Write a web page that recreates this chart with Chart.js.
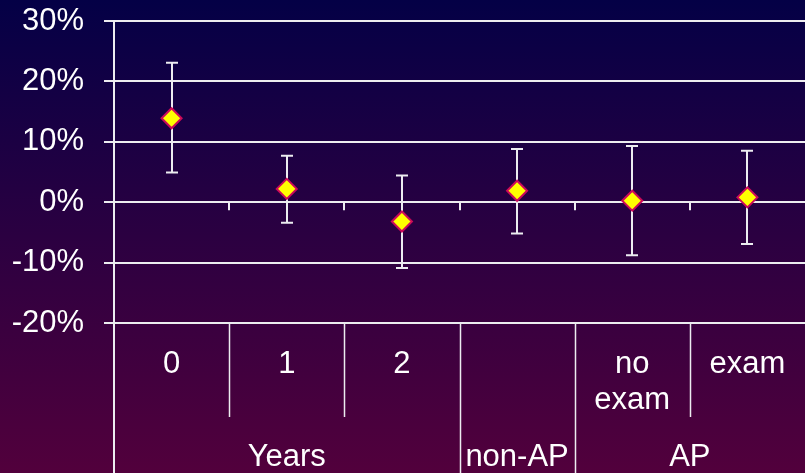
<!DOCTYPE html>
<html>
<head>
<meta charset="utf-8">
<script src="https://cdn.jsdelivr.net/npm/chart.js@4.4.1/dist/chart.umd.min.js"></script>
<style>
  html, body { margin: 0; padding: 0; }
  #wrap { width: 805px; height: 473px; position: relative; }
</style>
</head>
<body>
<div id="wrap"><canvas id="chart"></canvas></div>
<script>
// category labels (lower level) and their groups (upper level)
const categories = [['0'], ['1'], ['2'], [''], ['no', 'exam'], ['exam']]
const groupLabels = ['Years', 'non-AP', 'AP']
const groupSizes = [3, 1, 2]

// estimates and 95% interval ends, in percent
const values = [13.9, 2.2, -3.2, 1.9, 0.25, 0.8]
const upper = [23.1, 7.7, 4.4, 8.8, 9.3, 8.5]
const lower = [4.9, -3.4, -10.9, -5.2, -8.8, -6.9]

const yTicks = [-20, -10, 0, 10, 20, 30]

const FONT = '"Liberation Sans", Arial, sans-serif'
const LINE = '#ececf0'

const bgPlugin = {
    id: 'bg',
    beforeDraw(chart) {
        const ctx = chart.ctx
        const g = ctx.createLinearGradient(0, 0, 0, chart.height)
        g.addColorStop(0, '#040046')
        g.addColorStop(1, '#52003c')
        ctx.save()
        ctx.fillStyle = g
        ctx.fillRect(0, 0, chart.width, chart.height)
        ctx.restore()
    }
}

const errorBars = {
    id: 'errorBars',
    beforeDatasetsDraw(chart) {
        const ctx = chart.ctx
        const x = chart.scales.x
        const y = chart.scales.y
        ctx.save()
        ctx.strokeStyle = LINE
        ctx.lineWidth = 2
        values.forEach((v, i) => {
            const px = Math.round(x.getPixelForValue(i + 0.5))
            const top = y.getPixelForValue(upper[i])
            const bot = y.getPixelForValue(lower[i])
            ctx.beginPath()
            ctx.moveTo(px, top); ctx.lineTo(px, bot)
            ctx.moveTo(px - 6, top); ctx.lineTo(px + 6, top)
            ctx.moveTo(px - 6, bot); ctx.lineTo(px + 6, bot)
            ctx.stroke()
        })
        ctx.restore()
    }
}

// zero-line ticks, axis extension and the two-level category table
const categoryTable = {
    id: 'categoryTable',
    afterDraw(chart) {
        const ctx = chart.ctx
        const x = chart.scales.x
        const y = chart.scales.y
        const area = chart.chartArea
        const y0 = y.getPixelForValue(0)
        const base = area.bottom
        const groupEnds = []
        groupSizes.reduce((acc, n) => { groupEnds.push(acc + n); return acc + n }, 0)

        ctx.save()
        ctx.strokeStyle = LINE
        ctx.lineWidth = 2
        ctx.beginPath()
        for (let i = 1; i < categories.length; i++) {
            const px = Math.round(x.getPixelForValue(i))
            ctx.moveTo(px, y0); ctx.lineTo(px, y0 + 8)
        }
        ctx.moveTo(area.left, base); ctx.lineTo(area.left, chart.height)
        ctx.stroke()

        ctx.lineWidth = 1.5
        ctx.beginPath()
        for (let i = 1; i < categories.length; i++) {
            const px = Math.round(x.getPixelForValue(i)) + 0.5
            const full = groupEnds.includes(i)
            ctx.moveTo(px, base); ctx.lineTo(px, full ? chart.height : base + 94)
        }
        ctx.stroke()

        ctx.fillStyle = '#ffffff'
        ctx.font = '31px ' + FONT
        ctx.textAlign = 'center'
        ctx.textBaseline = 'alphabetic'
        categories.forEach((lines, i) => {
            const px = x.getPixelForValue(i + 0.5)
            lines.forEach((t, k) => ctx.fillText(t, px, base + 50 + k * 36))
        })
        let start = 0
        groupLabels.forEach((t, i) => {
            const mid = x.getPixelForValue(start + groupSizes[i] / 2)
            ctx.fillText(t, mid, base + 143)
            start += groupSizes[i]
        })
        ctx.restore()
    }
}

const ctx = document.getElementById('chart').getContext('2d')
new Chart(ctx, {
    type: 'scatter',
    data: {
        datasets: [{
            data: values.map((v, i) => ({ x: i + 0.5, y: v })),
            pointStyle: 'rectRot',
            pointRadius: 10,
            pointHoverRadius: 10,
            backgroundColor: '#ffff00',
            borderColor: '#cc0a5a',
            borderWidth: 2
        }]
    },
    options: {
        responsive: true,
        maintainAspectRatio: false,
        animation: false,
        events: [],
        layout: { autoPadding: false, padding: { top: 21, right: 0, bottom: 150, left: 0 } },
        plugins: { legend: { display: false }, tooltip: { enabled: false } },
        scales: {
            x: { type: 'linear', min: 0, max: categories.length, display: false },
            y: {
                min: yTicks[0],
                max: yTicks[yTicks.length - 1],
                afterBuildTicks: s => { s.ticks = yTicks.map(v => ({ value: v })) },
                afterFit: s => { s.width = 114; s.paddingTop = 0; s.paddingBottom = 0 },
                border: { display: true, color: LINE, width: 2 },
                grid: { color: LINE, lineWidth: 2, tickLength: 10 },
                ticks: {
                    color: '#ffffff',
                    padding: 20,
                    font: { family: FONT, size: 31 },
                    callback: v => v + '%'
                }
            }
        }
    },
    plugins: [bgPlugin, errorBars, categoryTable]
})
</script>
</body>
</html>
